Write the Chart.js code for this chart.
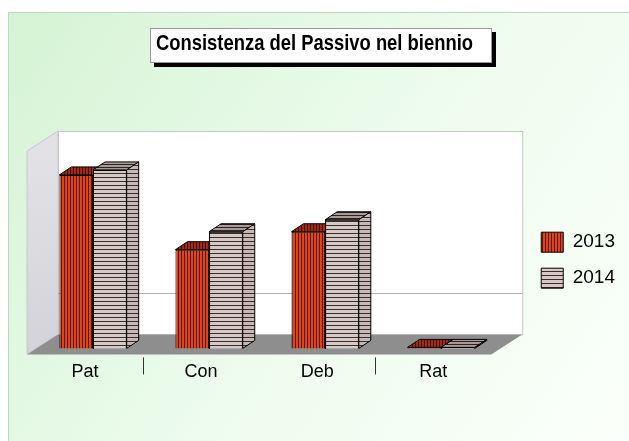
<!DOCTYPE html>
<html>
<head>
<meta charset="utf-8">
<script src="https://cdn.jsdelivr.net/npm/chart.js@4.4.0/dist/chart.umd.min.js"></script>
<style>
  html, body { margin: 0; padding: 0; background: #fff; }
  #wrap { width: 629px; height: 441px; position: relative; }
</style>
</head>
<body>
<div id="wrap"><canvas id="chart"></canvas></div>
<script>
const titleText = 'Consistenza del Passivo nel biennio';
const categories = ['Pat', 'Con', 'Deb', 'Rat'];
const seriesNames = ['2013', '2014'];
const values2013 = [174, 99, 117, 1];
const values2014 = [179, 117, 129, 1];
const gridValues = [42];
const yMax = 204;

const canvas = document.getElementById('chart');
const mainCtx = canvas.getContext('2d');

// striped fills like the old office chart
function stripes(vertical, light, dark, period) {
  const c = document.createElement('canvas');
  c.width = vertical ? period : 1;
  c.height = vertical ? 1 : period;
  const g = c.getContext('2d');
  g.fillStyle = light;
  g.fillRect(0, 0, c.width, c.height);
  g.fillStyle = dark;
  if (vertical) g.fillRect(period - 1, 0, 1, 1);
  else g.fillRect(0, period - 1, 1, 1);
  return mainCtx.createPattern(c, 'repeat');
}

const fills = [
  { front: stripes(true, '#dc461c', '#5e1606', 3), top: stripes(true, '#9c2c12', '#4a0e04', 3), side: stripes(true, '#a83214', '#4a0e04', 3) },
  { front: stripes(false, '#d6c8c4', '#3a2e2c', 4), top: stripes(false, '#a89a96', '#2e2424', 3), side: stripes(false, '#c6b8b4', '#3a2e2c', 4) }
];

const wallDepth = { dx: 31, dy: -20 };
const barShift = { dx: 8, dy: -6 };
const barDepth = { dx: 12, dy: -8 };

function drawFaces(ctx, meta, f) {
  const { dx, dy } = barDepth;
  ctx.save();
  ctx.strokeStyle = '#000';
  ctx.lineWidth = 1;
  meta.data.forEach(bar => {
    const { x, y, base, width } = bar.getProps(['x', 'y', 'base', 'width'], true);
    const l = x - width / 2, r = x + width / 2;
    const t = Math.min(y, base), b = Math.max(y, base);
    ctx.fillStyle = f.top;
    ctx.beginPath();
    ctx.moveTo(l, t); ctx.lineTo(l + dx, t + dy); ctx.lineTo(r + dx, t + dy); ctx.lineTo(r, t);
    ctx.closePath();
    ctx.fill(); ctx.stroke();
    ctx.fillStyle = f.side;
    ctx.beginPath();
    ctx.moveTo(r, t); ctx.lineTo(r + dx, t + dy); ctx.lineTo(r + dx, b + dy); ctx.lineTo(r, b);
    ctx.closePath();
    ctx.fill(); ctx.stroke();
  });
  ctx.restore();
}

const scenePlugin = {
  id: 'scene',
  beforeDraw(chart) {
    const ctx = chart.ctx;
    ctx.save();
    ctx.fillStyle = '#ffffff';
    ctx.fillRect(0, 0, chart.width, chart.height);
    const g = ctx.createLinearGradient(8, 12, 629, 441);
    g.addColorStop(0, '#d5f3d5');
    g.addColorStop(0.55, '#eefcee');
    g.addColorStop(1, '#fbfffb');
    ctx.fillStyle = g;
    ctx.fillRect(8, 12, chart.width - 8, chart.height - 12);
    ctx.strokeStyle = '#c4d4c4';
    ctx.lineWidth = 1;
    ctx.beginPath();
    ctx.moveTo(8.5, chart.height);
    ctx.lineTo(8.5, 12.5);
    ctx.lineTo(chart.width, 12.5);
    ctx.stroke();

    // title box with shadow
    ctx.fillStyle = '#000';
    ctx.fillRect(154, 32, 342, 35);
    ctx.fillStyle = '#fff';
    ctx.fillRect(150, 28, 342, 35);
    ctx.strokeStyle = '#9a9a9a';
    ctx.strokeRect(150.5, 28.5, 341, 34);
    ctx.fillStyle = '#000';
    ctx.font = 'bold 22px "Liberation Sans", Arial, sans-serif';
    ctx.textBaseline = 'middle';
    ctx.textAlign = 'left';
    ctx.fillText(titleText, 156, 44, 317);
    ctx.restore();
  },
  beforeDatasetsDraw(chart) {
    const ctx = chart.ctx;
    const { left: L, right: R, top: T, bottom: B } = chart.chartArea;
    const { dx, dy } = wallDepth;
    ctx.save();
    // left wall
    const lw = ctx.createLinearGradient(L, T, L + dx, B);
    lw.addColorStop(0, '#e2e2e6');
    lw.addColorStop(1, '#d2d2d8');
    ctx.fillStyle = lw;
    ctx.beginPath();
    ctx.moveTo(L, T); ctx.lineTo(L + dx, T + dy); ctx.lineTo(L + dx, B + dy); ctx.lineTo(L, B);
    ctx.closePath();
    ctx.fill();
    ctx.strokeStyle = '#c8c8cc';
    ctx.stroke();
    // back wall
    ctx.fillStyle = '#ffffff';
    ctx.fillRect(L + dx, T + dy, R - L, B - T);
    ctx.strokeStyle = '#c8c8c8';
    ctx.strokeRect(L + dx + 0.5, T + dy + 0.5, R - L, B - T);
    // gridlines on the back wall
    const y = chart.scales.y;
    ctx.strokeStyle = '#b4b4b4';
    gridValues.forEach(v => {
      const py = Math.round(y.getPixelForValue(v) + dy) + 0.5;
      ctx.beginPath();
      ctx.moveTo(L + dx, py);
      ctx.lineTo(R + dx, py);
      ctx.stroke();
    });
    // floor
    ctx.fillStyle = '#8e8e8e';
    ctx.beginPath();
    ctx.moveTo(L, B); ctx.lineTo(R, B); ctx.lineTo(R + dx, B + dy); ctx.lineTo(L + dx, B + dy);
    ctx.closePath();
    ctx.fill();
    ctx.restore();

    ctx.save();
    ctx.translate(barShift.dx, barShift.dy);
  },
  afterDatasetDraw(chart, args) {
    // 2014 is drawn first, 2013 last: put 2013's faces on, then bring 2014 back in front
    if (args.index !== 0) return;
    const ctx = chart.ctx;
    drawFaces(ctx, args.meta, fills[0]);
    const meta1 = chart.getDatasetMeta(1);
    meta1.data.forEach(el => el.draw(ctx, chart.chartArea));
    drawFaces(ctx, meta1, fills[1]);
  },
  afterDatasetsDraw(chart) {
    chart.ctx.restore();
  },
  afterDraw(chart) {
    // short separators under the axis, between Pat/Con and Deb/Rat
    const ctx = chart.ctx;
    const x = chart.scales.x;
    const B = chart.chartArea.bottom;
    ctx.save();
    ctx.strokeStyle = '#333';
    ctx.lineWidth = 1;
    [0, 2].forEach(i => {
      const px = Math.round((x.getPixelForValue(i) + x.getPixelForValue(i + 1)) / 2) + 0.5;
      ctx.beginPath();
      ctx.moveTo(px, B + 3);
      ctx.lineTo(px, B + 20);
      ctx.stroke();
    });
    ctx.restore();
  }
};

Chart.defaults.font.family = '"Liberation Sans", Arial, sans-serif';

new Chart(canvas, {
  type: 'bar',
  data: {
    labels: categories,
    datasets: [
      {
        label: seriesNames[0],
        data: values2013,
        backgroundColor: fills[0].front,
        borderColor: '#000',
        borderWidth: 1,
        clip: false
      },
      {
        label: seriesNames[1],
        data: values2014,
        backgroundColor: fills[1].front,
        borderColor: '#000',
        borderWidth: 1,
        clip: false
      }
    ]
  },
  options: {
    responsive: true,
    maintainAspectRatio: false,
    animation: false,
    events: [],
    layout: { padding: { left: 27, top: 151, right: 4, bottom: 51 } },
    datasets: { bar: { categoryPercentage: 0.58, barPercentage: 1 } },
    scales: {
      x: {
        grid: { display: false, drawTicks: false },
        border: { display: false },
        ticks: { color: '#000', font: { size: 18 }, padding: 7 }
      },
      y: {
        display: false,
        min: 0,
        max: yMax
      },
      gap: {
        type: 'linear',
        position: 'right',
        display: true,
        grid: { display: false, drawTicks: false },
        border: { display: false },
        ticks: { display: false },
        afterFit(scale) { scale.width = 34; }
      }
    },
    plugins: {
      title: { display: false },
      tooltip: { enabled: false },
      legend: {
        position: 'right',
        fullSize: false,
        title: { display: true, text: '', font: { size: 10 }, padding: { top: 3, bottom: 0 } },
        labels: {
          color: '#000',
          font: { size: 19 },
          boxWidth: 22,
          boxHeight: 20,
          padding: 16,
          sort: (a, b) => a.datasetIndex - b.datasetIndex
        }
      }
    }
  },
  plugins: [scenePlugin]
});
</script>
</body>
</html>
